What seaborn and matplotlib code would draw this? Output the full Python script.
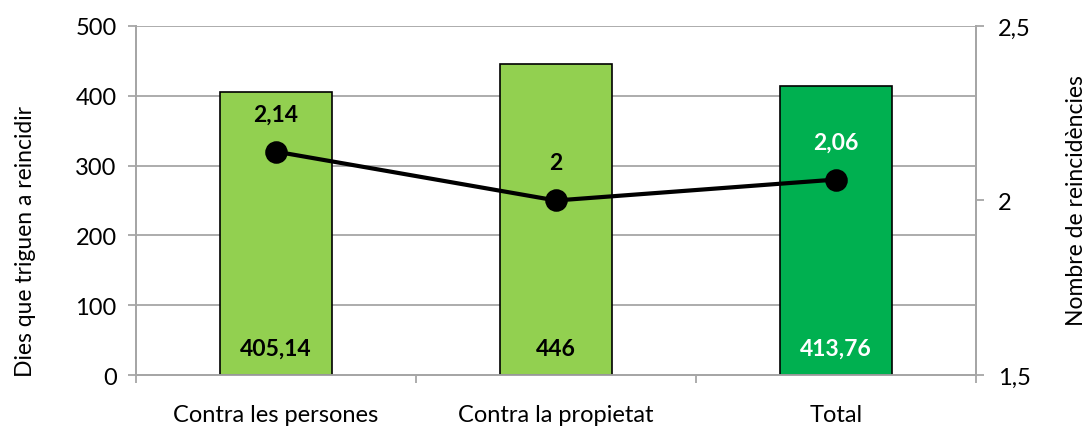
import matplotlib
matplotlib.use("Agg")
import matplotlib.pyplot as plt
import seaborn as sns
import pandas as pd
from matplotlib.ticker import FixedLocator

categories = ["Contra les persones", "Contra la propietat", "Total"]
dies = [405.14, 446, 413.76]
reincidencies = [2.14, 2.0, 2.06]
dies_labels = ["405,14", "446", "413,76"]
reinc_labels = ["2,14", "2", "2,06"]
bar_colors = ["#92D050", "#92D050", "#00B050"]
label_colors = ["black", "black", "white"]

df = pd.DataFrame({"cat": categories, "dies": dies, "reinc": reincidencies})

sns.set_theme(style="white")
plt.rcParams["font.family"] = ["Lato", "DejaVu Sans"]
grid_c = "#A6A6A6"
fs = 17
fs_lab = 16.5

fig = plt.figure(figsize=(10.86, 4.31), dpi=100)
ax = fig.add_axes([0.1252, 0.1276, 0.7735, 0.8098])

sns.barplot(data=df, x="cat", y="dies", hue="cat", palette=bar_colors,
            saturation=1, width=0.4, edgecolor="black", linewidth=1.2,
            legend=False, zorder=3, ax=ax)
ax.set_ylim(0, 500)
ax.set_xlim(-0.5, 2.5)
ax.set_yticks(range(0, 501, 100))
ax.yaxis.grid(True, color=grid_c, linewidth=1.3, zorder=0)
ax.set_axisbelow(True)
ax.set_xlabel("")
ax.set_ylabel("Dies que triguen a reincidir", fontsize=fs_lab, color="black")
ax.yaxis.set_label_coords(-0.119, 0.385)
ax.tick_params(axis="y", labelsize=fs, labelcolor="black", length=6,
               color=grid_c, width=1.3, left=True, pad=8)
ax.tick_params(axis="x", which="major", labelsize=fs, labelcolor="black",
               length=0, pad=21)
ax.xaxis.set_minor_locator(FixedLocator([-0.5, 0.5, 1.5, 2.5]))
ax.tick_params(axis="x", which="minor", length=6, color=grid_c, width=1.3, bottom=True)
for s in ["left", "bottom", "right"]:
    ax.spines[s].set_color(grid_c)
    ax.spines[s].set_linewidth(1.3)
ax.spines["top"].set_visible(False)

for i, (lab, col) in enumerate(zip(dies_labels, label_colors)):
    ax.text(i, 38, lab, ha="center", va="center", fontsize=fs_lab,
            fontweight="bold", color=col, zorder=5)

ax2 = ax.twinx()
sns.pointplot(data=df, x="cat", y="reinc", color="black", markersize=14,
              linewidth=3, ax=ax2, zorder=6)
ax2.set_xlim(-0.5, 2.5)
ax2.set_ylim(1.5, 2.5)
ax2.set_yticks([1.5, 2, 2.5])
ax2.set_yticklabels(["1,5", "2", "2,5"])
ax2.set_xlabel("")
ax2.set_ylabel("Nombre de reincidències", fontsize=fs_lab, color="black")
ax2.yaxis.set_label_coords(1.107, 0.504)
ax2.tick_params(axis="y", labelsize=fs, labelcolor="black", length=6,
                color=grid_c, width=1.3, right=True, pad=10)
for s in ["left", "bottom", "right"]:
    ax2.spines[s].set_color(grid_c)
    ax2.spines[s].set_linewidth(1.3)
ax2.spines["top"].set_visible(False)
ax2.grid(False)

for i, (v, lab, col) in enumerate(zip(reincidencies, reinc_labels, label_colors)):
    ax2.annotate(lab, (i, v), xytext=(0, 27), textcoords="offset points",
                 ha="center", va="center", fontsize=fs_lab, fontweight="bold",
                 color=col, zorder=7)

fig.savefig("out.png", dpi=100)
